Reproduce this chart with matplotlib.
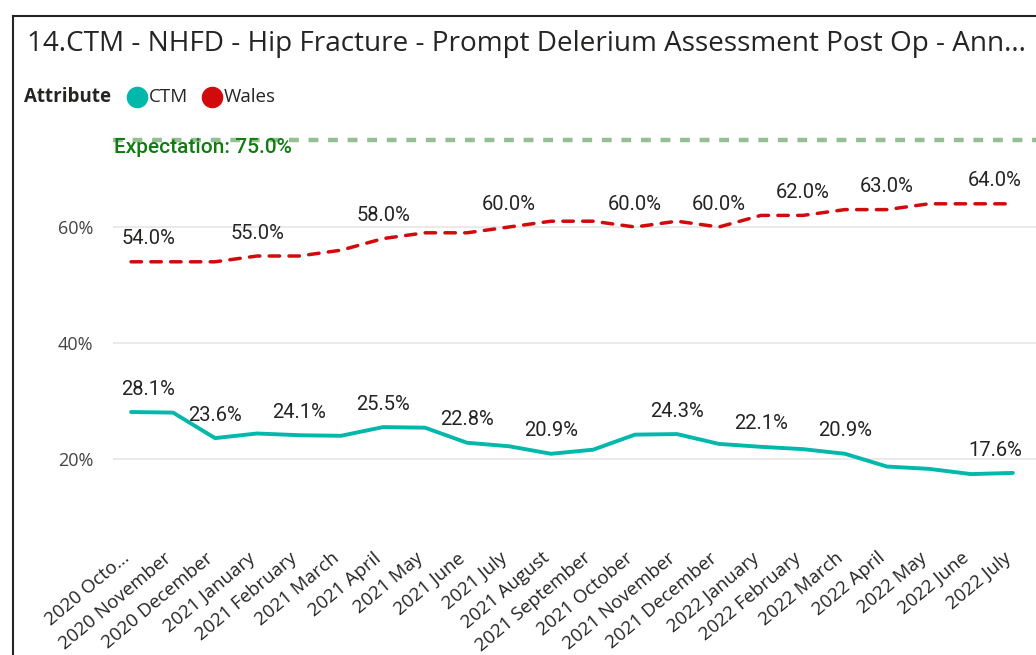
import matplotlib
matplotlib.use("Agg")
import matplotlib.pyplot as plt
from matplotlib.lines import Line2D
from matplotlib.transforms import ScaledTranslation

# data
months = ["2020 Octo...", "2020 November", "2020 December", "2021 January",
          "2021 February", "2021 March", "2021 April", "2021 May", "2021 June",
          "2021 July", "2021 August", "2021 September", "2021 October",
          "2021 November", "2021 December", "2022 January", "2022 February",
          "2022 March", "2022 April", "2022 May", "2022 June", "2022 July"]
ctm = [28.1, 28.0, 23.6, 24.4, 24.1, 24.0, 25.5, 25.4, 22.8, 22.2, 20.9,
       21.6, 24.2, 24.3, 22.6, 22.1, 21.7, 20.9, 18.7, 18.3, 17.4, 17.6]
wales = [54.0, 54.0, 54.0, 55.0, 55.0, 56.0, 58.0, 59.0, 59.0, 60.0, 61.0,
         61.0, 60.0, 61.0, 60.0, 62.0, 62.0, 63.0, 63.0, 64.0, 64.0, 64.0]
ctm_labelled = [0, 2, 4, 6, 8, 10, 13, 15, 17, 21]
wales_labelled = [0, 3, 6, 9, 12, 14, 16, 18, 21]
expectation = 75.0
y_ticks = [20, 40, 60]

W, H = 1036, 655
TEAL = "#01B8AA"
RED = "#D10B0B"
TXT = "#252423"


def fx(px):
    return px / W


def fy(py):
    return 1 - py / H


fig = plt.figure(figsize=(W / 100, H / 100), dpi=100)
ax = fig.add_axes([fx(113), fy(540), fx(1036) - fx(113), fy(120) - fy(540)])

x = list(range(len(months)))
ax.axhline(expectation, color="#93BF93", lw=3.2, dashes=(2.2, 2.2),
           solid_capstyle="butt", zorder=1)
ax.plot(x, wales, color=RED, lw=2.5, dashes=(3.0, 2.7),
        dash_capstyle="round", zorder=3)
ax.plot(x, ctm, color=TEAL, lw=2.8, solid_capstyle="round",
        solid_joinstyle="round", zorder=3)

ax.annotate(f"Expectation: {expectation:.1f}%", (-0.43, expectation),
            xytext=(1, 1.5), textcoords="offset points",
            fontsize=15, family="Roboto", fontweight="medium", color="#107C10",
            ha="left", va="top", zorder=4)


def put_labels(vals, idx):
    for i in idx:
        ha, dx = "center", 0
        if i == 0:
            ha, dx = "left", -7
        elif i == len(vals) - 1:
            ha, dx = "right", 6.5
        ax.annotate(f"{vals[i]:.1f}%", (i, vals[i]), xytext=(dx, 16.5),
                    textcoords="offset points", ha=ha, va="center",
                    fontsize=14.5, family="Roboto", color=TXT, zorder=5)


put_labels(wales, wales_labelled)
put_labels(ctm, ctm_labelled)

ax.set_xlim(-0.43, 21.55)
ax.set_ylim((575 - 540) / 5.8, (575 - 120) / 5.8)
ax.set_yticks(y_ticks)
ax.set_yticklabels([f"{v}%" for v in y_ticks], family="Open Sans",
                   fontsize=13, color="#444444")
ax.set_xticks(x)
ax.set_xticklabels([])
# month labels drawn by hand so they can sit left of the tick like Power BI
lab_tr = ax.get_xaxis_transform() + ScaledTranslation(-10 / 100, -9 / 100,
                                                        fig.dpi_scale_trans)
for i, m in enumerate(months):
    ax.text(i, 0, m, transform=lab_tr, rotation=40, rotation_mode="anchor",
            ha="right", va="top", family="Open Sans", fontsize=13.5, color=TXT,
            clip_on=False)
ax.tick_params(axis="both", length=0)
ax.tick_params(axis="y", pad=14)
ax.grid(axis="y", color="#E6E6E6", lw=1.2)
ax.set_axisbelow(True)
for s in ax.spines.values():
    s.set_visible(False)

# frame of the visual
fig.add_artist(Line2D([fx(13), 1], [fy(16), fy(16)], color=TXT, lw=1.5))
fig.add_artist(Line2D([fx(13), fx(13)], [fy(16), 0], color=TXT, lw=1.5))

fig.text(fx(27), fy(51),
         "14.CTM - NHFD - Hip Fracture - Prompt Delerium Assessment Post Op - Ann...",
         family="Open Sans", fontsize=20.1, color=TXT, ha="left", va="baseline")

# legend
fig.text(fx(24), fy(97), "Attribute", family="Open Sans", fontweight="bold",
         fontsize=13.5, color=TXT, ha="left", va="center")
fig.add_artist(Line2D([fx(137)], [fy(97)], marker="o", markersize=14.5,
                      color=TEAL, lw=0))
fig.text(fx(149), fy(97), "CTM", family="Open Sans", fontsize=13.5, color=TXT,
         ha="left", va="center")
fig.add_artist(Line2D([fx(212)], [fy(97)], marker="o", markersize=14.5,
                      color=RED, lw=0))
fig.text(fx(224), fy(97), "Wales", family="Open Sans", fontsize=13.5,
         color=TXT, ha="left", va="center")

fig.savefig("out.png", dpi=100)
